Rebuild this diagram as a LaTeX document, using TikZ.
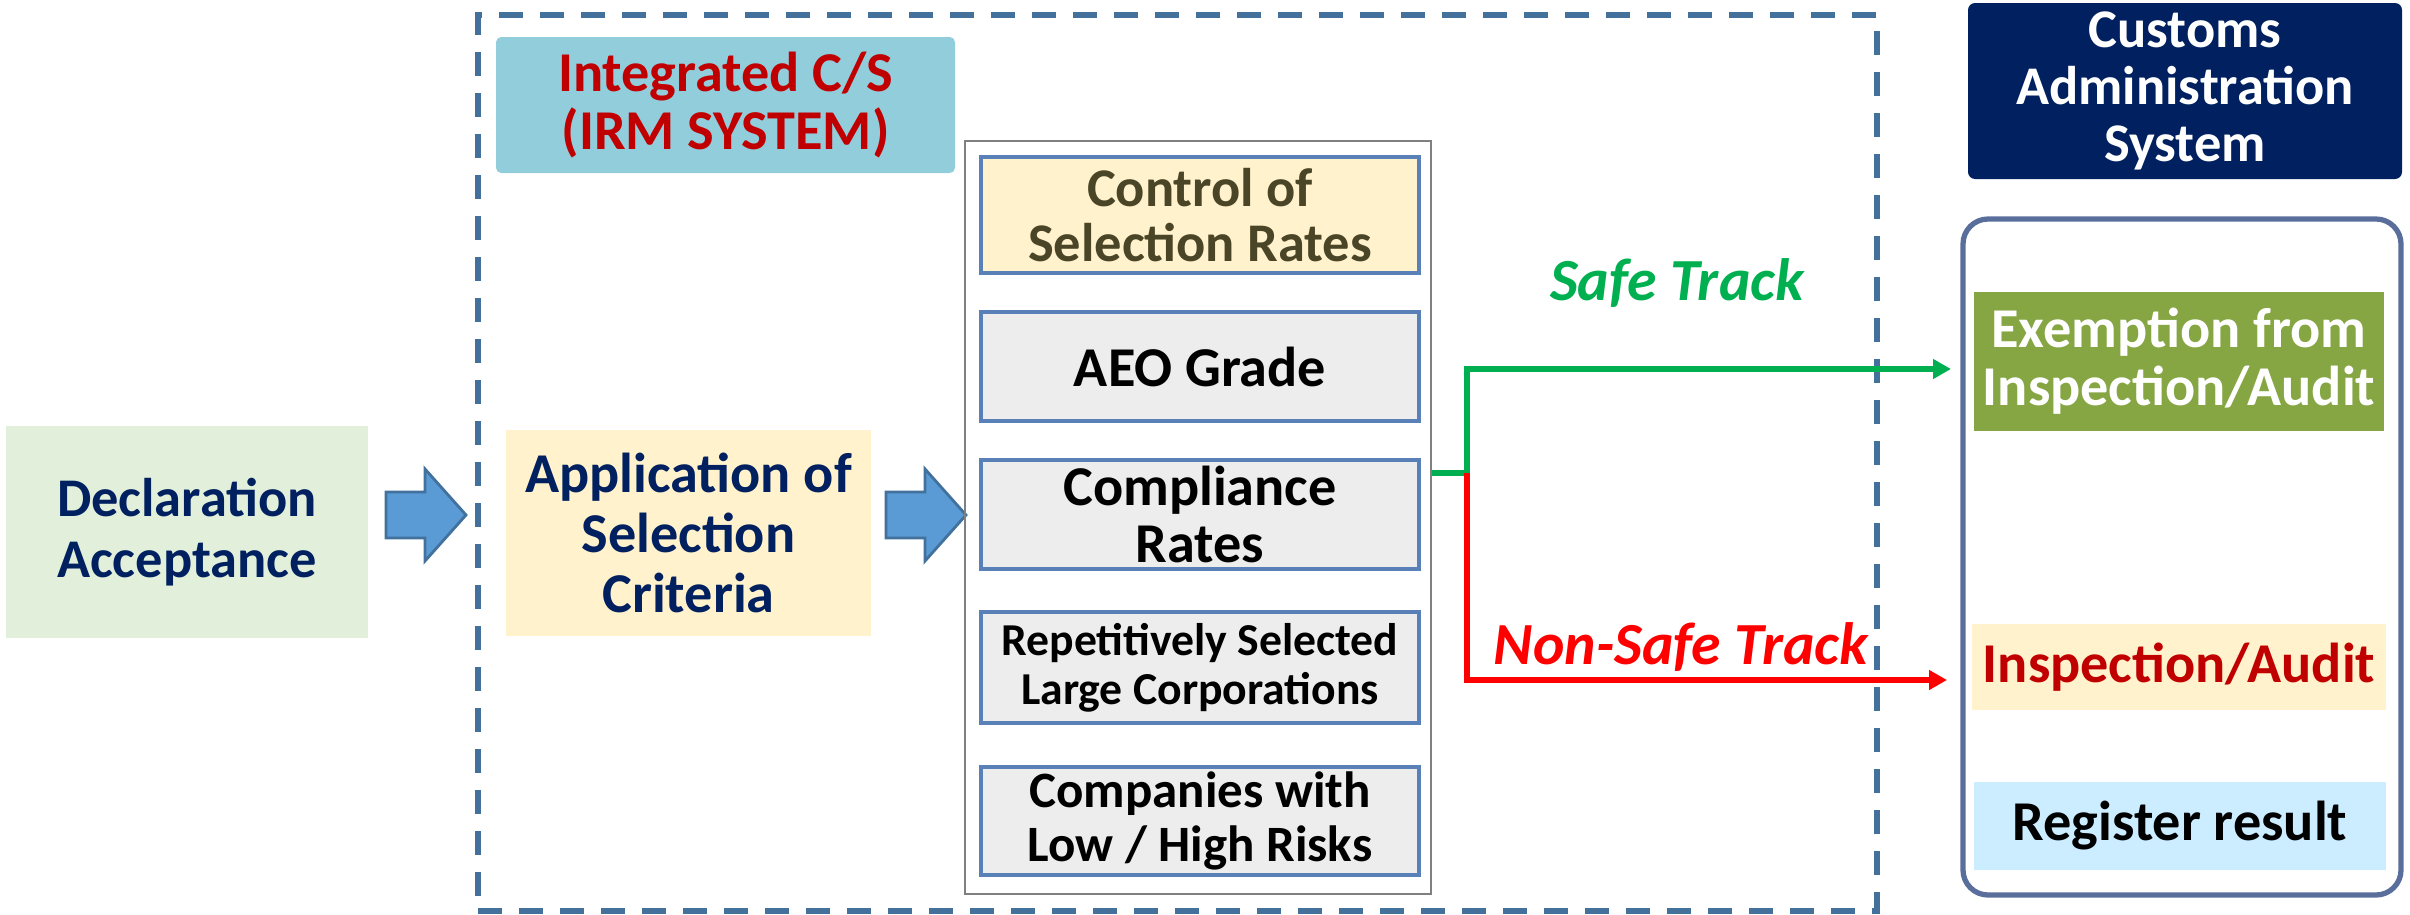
\documentclass[tikz,border=0pt]{standalone}
\usepackage{fontspec}
\setmainfont{Carlito}
\usepackage{xcolor}
\usetikzlibrary{positioning, arrows.meta}
\definecolor{navytext}{HTML}{002060}
\definecolor{declgreen}{HTML}{E2EFDA}
\definecolor{paleyellow}{HTML}{FFF2CC}
\definecolor{irmblue}{HTML}{92CDDC}
\definecolor{darkred}{HTML}{C00000}
\definecolor{arrowfill}{HTML}{5B9BD5}
\definecolor{arrowdraw}{HTML}{41719C}
\definecolor{frameblue}{HTML}{44709C}
\definecolor{boxgray}{HTML}{EDEDED}
\definecolor{boxblue}{HTML}{5A80B8}
\definecolor{olivetext}{HTML}{4A4526}
\definecolor{safegreen}{HTML}{00B050}
\definecolor{unsafered}{HTML}{FF0000}
\definecolor{sysdraw}{HTML}{5A6E9C}
\definecolor{exemptgreen}{HTML}{86A644}
\definecolor{reglight}{HTML}{CCECFF}

\begin{document}
\begin{tikzpicture}[
    font=\bfseries\fontsize{16}{16.5}\selectfont,
    every node/.style={align=center, inner sep=2pt},
    criterio/.style={draw=boxblue, line width=1pt, fill=boxgray, minimum width=4.38cm, inner sep=0pt},
    bloque/.style={fill=arrowfill, draw=arrowdraw, line width=0.8pt},
    safeline/.style={draw=safegreen, line width=1.5pt, -{Triangle[length=1.8mm,width=1.9mm]}},
    unsafeline/.style={draw=unsafered, line width=1.5pt, -{Triangle[length=1.8mm,width=1.9mm]}}
]
    \useasboundingbox (0,0) rectangle (24.1,9.14);

    % Marco punteado del sistema IRM
    \node[draw=frameblue, line width=1.5pt, dash pattern=on 0.24cm off 0.17cm,
        minimum width=13.99cm, minimum height=8.96cm] (irmframe) at (11.775,4.51) {};

    % Cajas de la izquierda
    \node[fill=declgreen, text=navytext, minimum width=3.62cm, minimum height=2.12cm,
        font=\bfseries\fontsize{15.5}{17.4}\selectfont] (decl) at (1.87,3.82) {Declaration\\Acceptance};
    \node[fill=irmblue, text=darkred, rounded corners=1.5pt, minimum width=4.59cm,
        minimum height=1.36cm] (irm) at (7.255,8.09) {Integrated C/S\\(IRM SYSTEM)};
    \node[fill=paleyellow, text=navytext, minimum width=3.65cm, minimum height=2.06cm,
        font=\bfseries\fontsize{16}{17}\selectfont] (app) at (6.885,3.81) {Application of\\Selection\\Criteria};

    % Flechas gruesas
    \foreach \x in {3.86,8.86} {
        \draw[bloque] (\x,3.76) -- ++(0.39,0) -- ++(0,-0.23) -- ++(0.41,0.46)
            -- ++(-0.41,0.46) -- ++(0,-0.23) -- ++(-0.39,0) -- cycle;
    }

    % Criterios de seleccion
    \node[draw=gray, line width=0.7pt, minimum width=4.66cm, minimum height=7.53cm] (crit) at (11.98,3.965) {};
    \node[criterio, fill=paleyellow, text=olivetext, minimum height=1.16cm,
        font=\bfseries\fontsize{15.5}{15.5}\selectfont] (ctrl) at (12.0,6.99) {Control of\\Selection Rates};
    \node[criterio, minimum height=1.09cm] (aeo) at (12.0,5.475) {AEO Grade};
    \node[criterio, minimum height=1.09cm, font=\bfseries\fontsize{16}{16}\selectfont] (comp) at (12.0,3.995) {Compliance\\Rates};
    \node[criterio, minimum height=1.11cm,
        font=\bfseries\fontsize{13}{14}\selectfont] (rep) at (12.0,2.465) {Repetitively Selected\\Large Corporations};
    \node[criterio, minimum height=1.08cm,
        font=\bfseries\fontsize{14.5}{15.6}\selectfont] (risk) at (12.0,0.93) {Companies with\\Low / High Risks};

    % Pistas
    \coordinate (split) at (14.67,4.41);
    \coordinate (safeend) at (19.51,5.45);
    \coordinate (unsafeend) at (19.47,2.34);
    \draw[safeline] (crit.east |- split) -- (split) |- (safeend);
    \draw[unsafeline] (split) |- (unsafeend);
    \node[text=safegreen, font=\bfseries\itshape\fontsize{17}{17}\selectfont] (safe) at (16.77,6.31) {Safe Track};
    \node[text=unsafered, font=\bfseries\itshape\fontsize{17}{17}\selectfont] (unsafe) at (16.81,2.67) {Non-Safe Track};

    % Sistema de administracion aduanera
    \node[fill=navytext, text=white, rounded corners=2pt, minimum width=4.34cm, minimum height=1.76cm,
        font=\bfseries\fontsize{15.5}{16.2}\selectfont] (cas) at (21.85,8.23) {Customs\\Administration\\System};
    \node[draw=sysdraw, line width=1.5pt, rounded corners=0.25cm, fill=white,
        minimum width=4.38cm, minimum height=6.76cm] (sys) at (21.82,3.57) {};
    \node[fill=exemptgreen, text=white, minimum width=4.10cm, minimum height=1.39cm] (exempt) at (21.79,5.525) {Exemption from\\Inspection/Audit};
    \node[fill=paleyellow, text=darkred, minimum width=4.14cm, minimum height=0.86cm] (insp) at (21.79,2.47) {Inspection/Audit};
    \node[fill=reglight, text=black, minimum width=4.12cm, minimum height=0.88cm] (reg) at (21.80,0.88) {Register result};
\end{tikzpicture}
\end{document}
